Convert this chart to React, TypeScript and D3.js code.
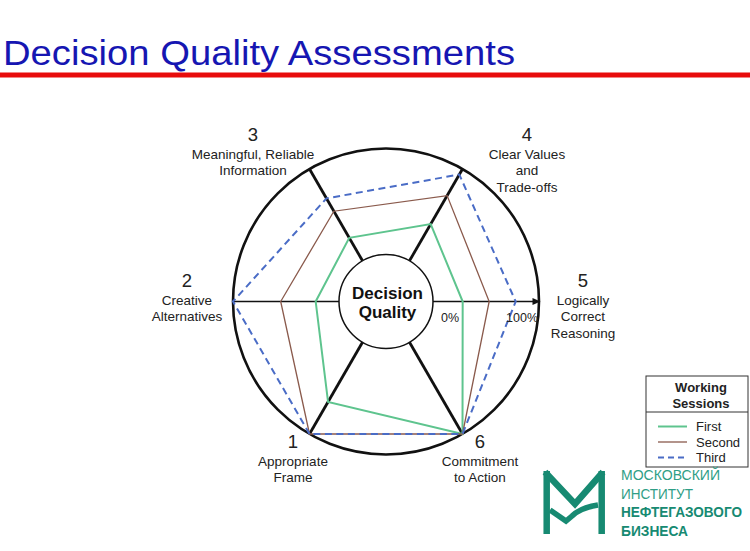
import React from 'react';
import * as d3 from 'd3';

// ---- data ----
const axisNumbers = [1, 2, 3, 4, 5, 6];
const axisLabels = [
  ['Appropriate', 'Frame'],
  ['Creative', 'Alternatives'],
  ['Meaningful, Reliable', 'Information'],
  ['Clear Values', 'and', 'Trade-offs'],
  ['Logically', 'Correct', 'Reasoning'],
  ['Commitment', 'to Action'],
];
const firstSession = [65, 22, 25, 40, 28, 100];
const secondSession = [100, 55, 54, 71, 53, 100];
const thirdSession = [100, 100, 68, 94, 78, 100];
const seriesNames = ['First', 'Second', 'Third'];
const radialTicks = [0, 100];
const titleText = 'Decision Quality Assessments';
const centerText = ['Decision', 'Quality'];
const legendTitle = ['Working', 'Sessions'];
const logoLines = ['МОСКОВСКИЙ', 'ИНСТИТУТ', 'НЕФТЕГАЗОВОГО', 'БИЗНЕСА'];

// ---- layout ----
const W = 750;
const H = 551;
const cx = 386;
const cy = 301.5;
const innerR = 47;
const outerR = 153;
const FONT = '"Liberation Sans", Arial, Helvetica, sans-serif';

const seriesStyles = [
  { color: '#5ec48e', width: 2, dash: undefined as string | undefined },
  { color: '#8a5a4c', width: 1.3, dash: undefined as string | undefined },
  { color: '#4a6cc6', width: 2, dash: '7,4.5' },
];

// label offsets from spoke end (number baseline)
const labelOffsets: [number, number][] = [
  [-16.5, 14],
  [-46, -14.5],
  [-56.5, -28],
  [64.5, -28],
  [44, -14.5],
  [17.5, 14],
];

const rScale = d3.scaleLinear().domain([0, 100]).range([innerR, outerR]);
// axis index -> angle (radians, SVG coords, 0 = pointing right)
const angleScale = d3.scaleLinear().domain([5, 6]).range([0, Math.PI / 3]);

const pt = (k: number, r: number): [number, number] => {
  const a = angleScale(k);
  return [cx + r * Math.cos(a), cy + r * Math.sin(a)];
};

const radialLine = d3
  .lineRadial<number>()
  .angle((_, i) => angleScale(axisNumbers[i]) + Math.PI / 2)
  .radius((d) => rScale(d))
  .curve(d3.curveLinearClosed);

export default function App() {
  const series = [firstSession, secondSession, thirdSession];
  const arrowTip = pt(5, outerR + 1.5);
  return (
    <svg
      width={W}
      height={H}
      viewBox={`0 0 ${W} ${H}`}
      style={{ position: 'absolute', left: 0, top: 0, background: '#fff' }}
      fontFamily={FONT}
    >
      <rect x={0} y={0} width={W} height={H} fill="#fff" />
      {/* title */}
      <text
        x={3}
        y={64.5}
        fontSize={35}
        fill="#1616b2"
        textLength={512}
        lengthAdjust="spacingAndGlyphs"
      >
        {titleText}
      </text>
      <rect x={0} y={72.5} width={W} height={5} fill="#e80c0c" />

      {/* horizontal axis with arrow */}
      <line
        x1={pt(2, outerR)[0]}
        y1={cy}
        x2={arrowTip[0] - 6}
        y2={cy}
        stroke="#111"
        strokeWidth={1.6}
      />
      <path
        d={`M${arrowTip[0]},${cy} L${arrowTip[0] - 8},${cy - 3.5} L${arrowTip[0] - 8},${cy + 3.5} Z`}
        fill="#111"
      />
      {/* diagonal spokes */}
      {axisNumbers
        .filter((k) => k !== 2 && k !== 5)
        .map((k) => {
          const [x1, y1] = pt(k, innerR);
          const [x2, y2] = pt(k, outerR);
          return <line key={k} x1={x1} y1={y1} x2={x2} y2={y2} stroke="#111" strokeWidth={2.8} />;
        })}

      {/* outer circle */}
      <circle cx={cx} cy={cy} r={outerR} fill="none" stroke="#111" strokeWidth={2.6} />

      {/* series polygons */}
      <g transform={`translate(${cx},${cy})`}>
        {series.map((s, i) => (
          <path
            key={i}
            d={radialLine(s) || ''}
            fill="none"
            stroke={seriesStyles[i].color}
            strokeWidth={seriesStyles[i].width}
            strokeDasharray={seriesStyles[i].dash}
            strokeLinejoin="miter"
          />
        ))}
      </g>

      {/* inner circle */}
      <circle cx={cx} cy={cy} r={innerR} fill="#fff" stroke="#111" strokeWidth={1.5} />
      {centerText.map((t, i) => (
        <text
          key={t}
          x={cx + 1.5}
          y={cy - 2.5 + i * 18.5}
          textAnchor="middle"
          fontSize={17}
          fontWeight="bold"
          fill="#111"
        >
          {t}
        </text>
      ))}

      {/* radial tick labels */}
      <text x={rScale(radialTicks[0]) + cx + 8} y={cy + 20.5} fontSize={12.5} fill="#222">
        {radialTicks[0]}%
      </text>
      <text
        x={rScale(radialTicks[1]) + cx - 1}
        y={cy + 20.5}
        fontSize={12.5}
        fill="#222"
        textAnchor="end"
      >
        {radialTicks[1]}%
      </text>

      {/* axis labels */}
      {axisNumbers.map((k, i) => {
        const [ex, ey] = pt(k, outerR);
        const x = ex + labelOffsets[i][0];
        const y = ey + labelOffsets[i][1];
        return (
          <g key={k} fill="#222">
            <text x={x} y={y} textAnchor="middle" fontSize={18.5}>
              {k}
            </text>
            {axisLabels[i].map((line, j) => (
              <text key={j} x={x} y={y + 18 + j * 16.4} textAnchor="middle" fontSize={13.5}>
                {line}
              </text>
            ))}
          </g>
        );
      })}

      {/* legend */}
      <g>
        <rect x={646} y={376} width={102} height={91} fill="#fff" stroke="#333" strokeWidth={1} />
        <line x1={646} y1={412} x2={748} y2={412} stroke="#333" strokeWidth={1} />
        {legendTitle.map((t, i) => (
          <text
            key={t}
            x={701}
            y={392 + i * 16}
            textAnchor="middle"
            fontSize={13}
            fontWeight="bold"
            fill="#222"
          >
            {t}
          </text>
        ))}
        {seriesNames.map((n, i) => (
          <g key={n}>
            <line
              x1={658}
              x2={687}
              y1={426.5 + i * 15.5}
              y2={426.5 + i * 15.5}
              stroke={seriesStyles[i].color}
              strokeWidth={seriesStyles[i].width}
              strokeDasharray={seriesStyles[i].dash ? '6,4' : undefined}
            />
            <text x={696} y={431 + i * 15.5} fontSize={13} fill="#222">
              {n}
            </text>
          </g>
        ))}
      </g>

      {/* logo */}
      <g fill="none" stroke="#178a72" strokeWidth={6.5} strokeLinejoin="miter">
        <line x1={546.7} y1={471} x2={546.7} y2={534} />
        <line x1={601.7} y1={471} x2={601.7} y2={534} />
        <path d="M545,472 L575,504 L603,472" />
        <path d="M550,510 L566,521 L572,516 Q580,508 598,505" strokeWidth={5.5} />
      </g>
      {logoLines.map((t, i) => (
        <text
          key={t}
          x={621}
          y={480 + i * 18.5}
          fontSize={15}
          fontWeight={i >= 2 ? 'bold' : 'normal'}
          fill={i >= 2 ? '#178a72' : '#2f9e86'}
          textLength={i === 0 ? 99 : i === 1 ? 72 : i === 2 ? 121 : 67}
          lengthAdjust="spacingAndGlyphs"
        >
          {t}
        </text>
      ))}
    </svg>
  );
}
